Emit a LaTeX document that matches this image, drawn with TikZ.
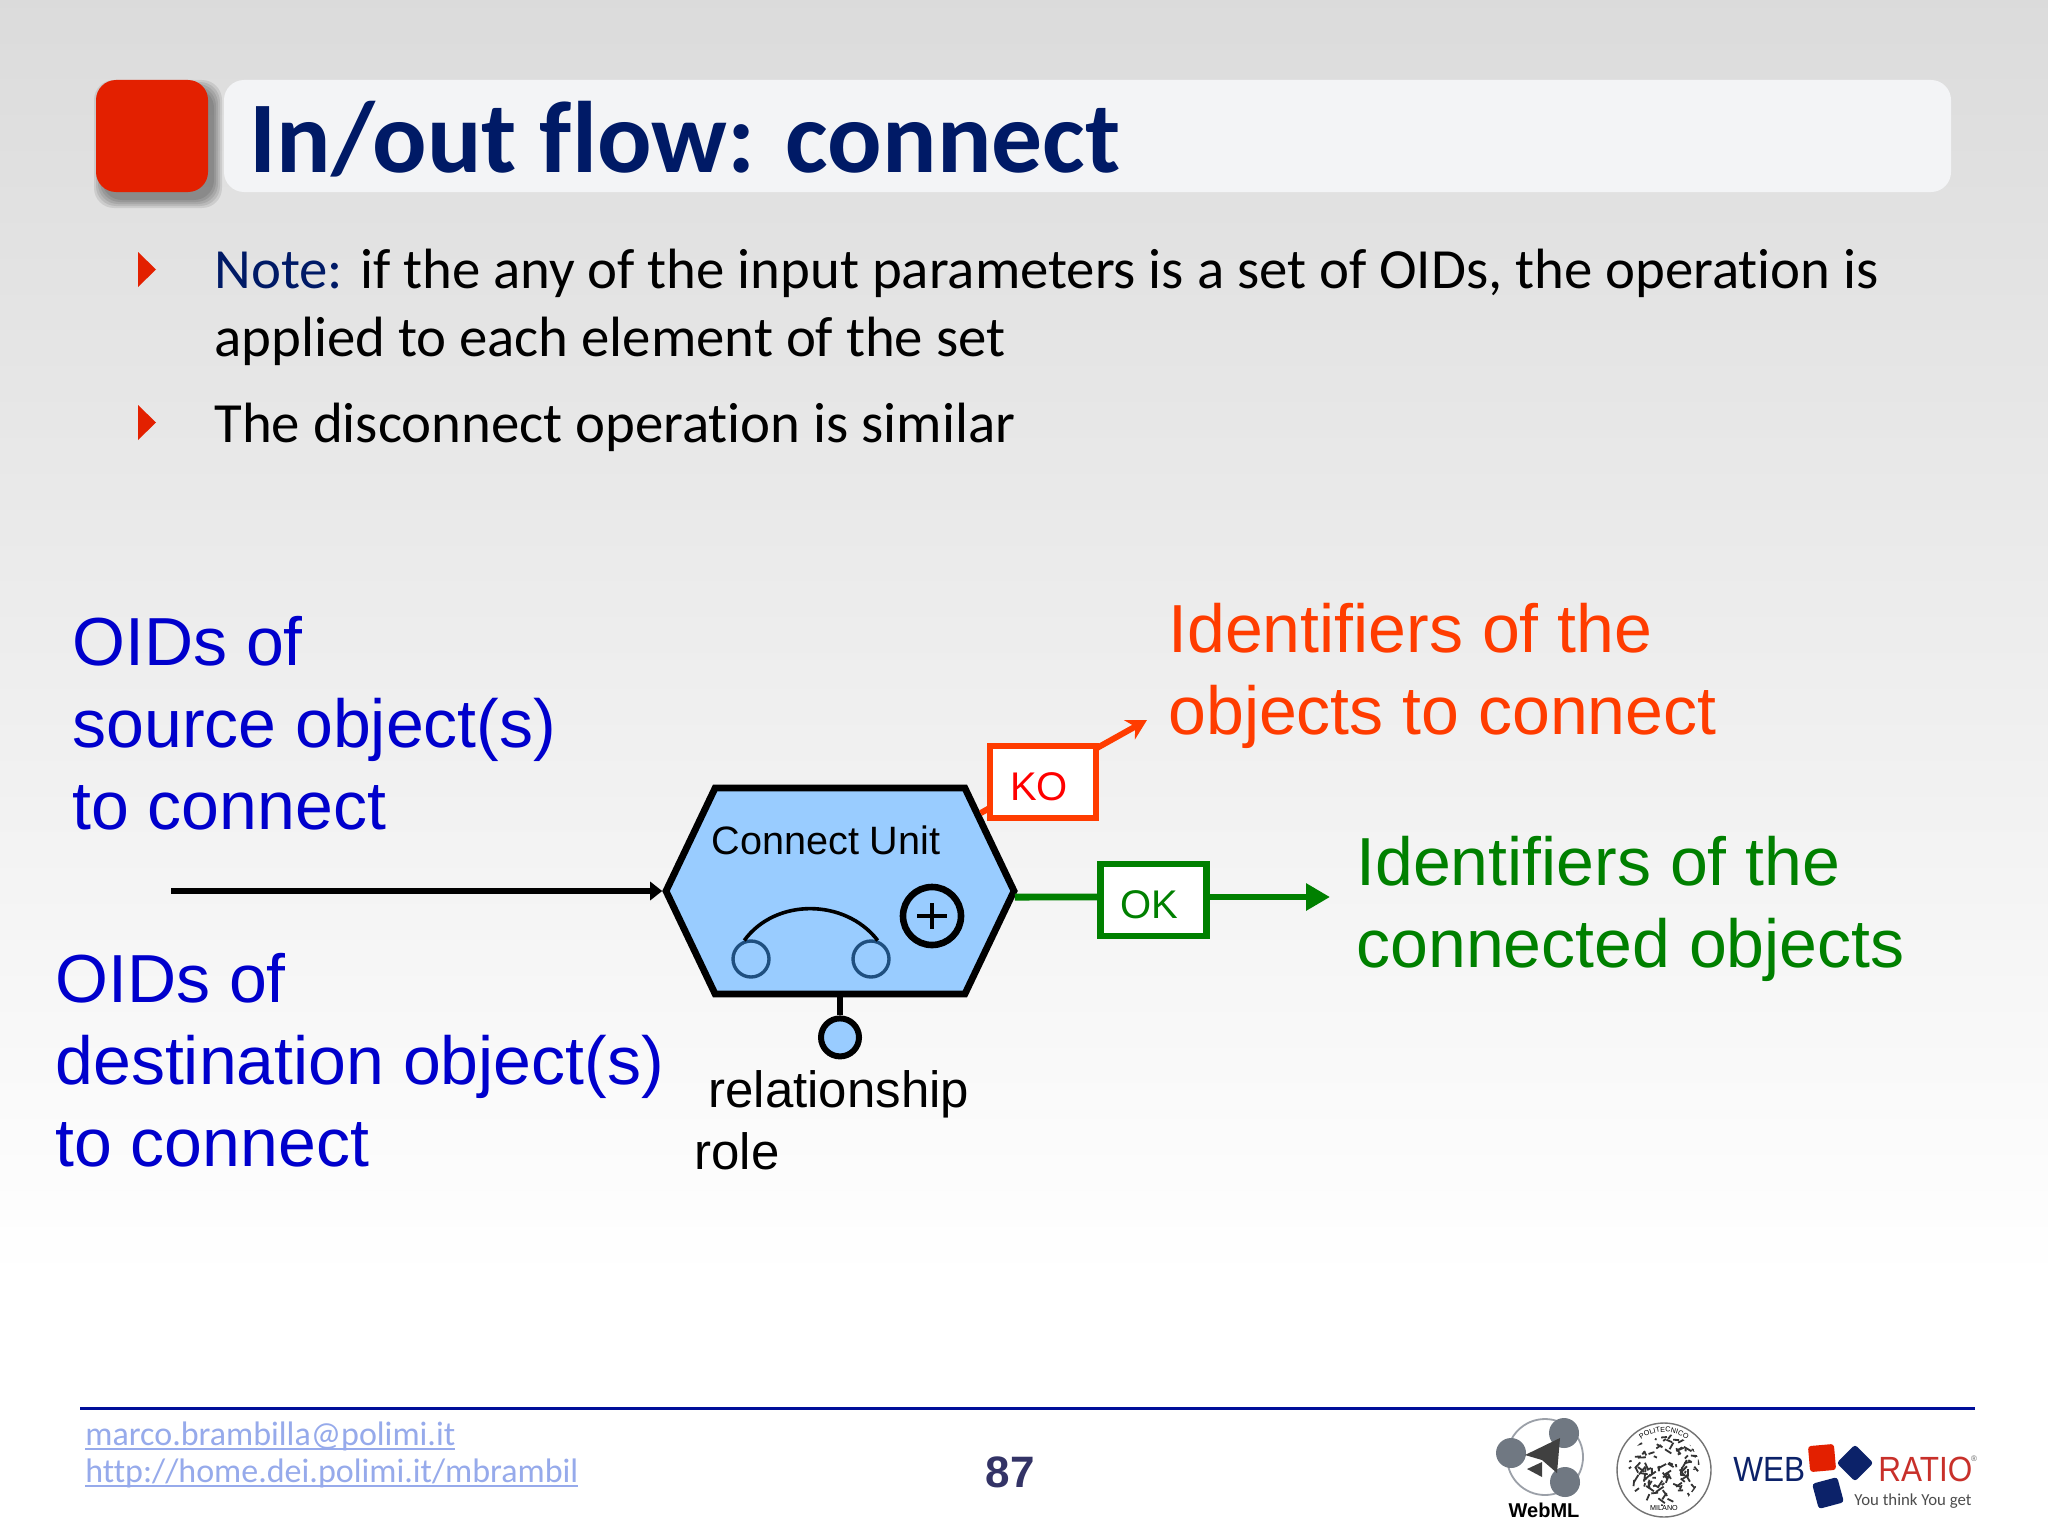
\documentclass[tikz,border=0pt]{standalone}
\usepackage{fontspec}
\setmainfont{Liberation Sans}
\newfontfamily\carlito[Ligatures=NoCommon]{Carlito}
\definecolor{slidenavy}{RGB}{0, 26, 102}
\definecolor{slidered}{RGB}{227, 32, 0}
\definecolor{barwhite}{RGB}{243, 244, 246}
\definecolor{unitblue}{RGB}{153, 204, 255}
\definecolor{portblue}{RGB}{31, 79, 127}
\definecolor{sourceblue}{RGB}{0, 0, 204}
\definecolor{koorange}{RGB}{255, 60, 0}
\definecolor{okgreen}{RGB}{0, 128, 0}
\definecolor{linkblue}{RGB}{150, 170, 235}
\definecolor{footblue}{RGB}{0, 14, 153}
\definecolor{pagegray}{RGB}{51, 51, 102}
\definecolor{webmlgray}{RGB}{112, 120, 130}
\definecolor{rationavy}{RGB}{12, 34, 105}
\definecolor{ratiored}{RGB}{200, 48, 42}
\usetikzlibrary{arrows.meta, positioning, calc, shapes.symbols, decorations.text}
\newcommand{\boxtext}[1]{\raisebox{-9.1pt}[7pt][7pt]{#1}\kern4pt}
\newcommand{\linkline}[1]{\setbox0=\hbox{#1}\rlap{\rule[-2.4pt]{\wd0}{0.9pt}}\box0}

\begin{document}
\begin{tikzpicture}[
    x=0.5pt, y=-0.5pt,
    bigtext/.style={inner sep=0pt, anchor=base west, align=left,
                font=\fontsize{34}{40.9}\selectfont},
    bodytext/.style={inner sep=0pt, anchor=base west, align=left,
                font=\carlito\fontsize{28.4}{34}\selectfont},
    linktext/.style={inner sep=0pt, anchor=base west, text=linkblue,
                font=\carlito\fontsize{17}{18}\selectfont},
    flowbox/.style={rectangle, fill=white, line width=3.2pt, inner sep=0pt,
                minimum width=53pt, minimum height=36pt, font=\fontsize{20}{20}\selectfont},
    unitport/.style={circle, draw=portblue, line width=1.7pt, inner sep=0pt,
                minimum size=18pt},
    webmlball/.style={circle, fill=webmlgray, inner sep=0pt, minimum size=15pt},
    ratiotile/.style={rectangle, rounded corners=1.5pt, inner sep=0pt, minimum size=13pt},
    logoword/.style={inner sep=0pt, anchor=base west, xscale=0.9, font=\fontsize{17.5}{17.5}\selectfont}
]
    % page and title bar
    \useasboundingbox (0,0) rectangle (2048,1536);
    \fill[white] (0,0) rectangle (2048,1536);
    \shade[top color=black!14, bottom color=white] (0,0) rectangle (2048,1280);
    \node[rectangle, fill=barwhite, rounded corners=10pt, minimum width=863.5pt, minimum height=56pt,
          inner sep=0pt] (titlebar) at (1087.5,136) {};
    \foreach \grow in {0,2,4,6,8}
        \fill[black, opacity=0.09, rounded corners=10pt] (96+6-\grow,80+8-\grow) rectangle (208+6+\grow,192+8+\grow);
    \node[rectangle, fill=slidered, rounded corners=10pt, minimum width=56pt, minimum height=56pt,
          inner sep=0pt] (titlemark) at (152,136) {};
    \node[inner sep=0pt, anchor=base west, text=slidenavy, font=\carlito\bfseries\fontsize{50.8}{50}\selectfont]
          (titletext) at (249,172) {In/out flow: connect};

    % bullets
    \foreach \ybullet in {252,405}
        \fill[slidered] (138,\ybullet) -- ++(18,17.5) -- ++(-18,17.5) -- cycle;
    \node[bodytext] (notetext) at (214,356) {\textcolor{slidenavy}{Note:} if the any of the input parameters is a set of OIDs, the operation is\\applied to each element of the set};
    \node[bodytext] (similartext) at (214,442) {The disconnect operation is similar};

    % connect unit
    \node[signal, signal to=east and west, signal pointer angle=129, draw=black, fill=unitblue,
          line width=3.4pt, inner sep=0pt, minimum width=174pt, minimum height=103pt] (hexunit) at (840,891) {};
    \node[font=\fontsize{19.8}{20}\selectfont, inner sep=0pt] (unitname) at (826,840) {Connect Unit};
    \node[unitport] (portleft) at (751,959) {};
    \node[unitport] (portright) at (871,959) {};
    \draw[line width=1.8pt] (portleft.110) .. controls (775,898) and (845,898) .. (portright.70);
    \node[circle, draw=black, line width=3.3pt, inner sep=0pt, minimum size=29pt] (plusmark) at (932,916) {};
    \draw[line width=1.8pt] (plusmark.center) ++(-15,0) -- ++(30,0) (plusmark.center) ++(0,-13) -- ++(0,26);
    \node[circle, draw=black, fill=unitblue, line width=3pt, inner sep=0pt, minimum size=19pt,
          below=9pt of hexunit.south] (rolemark) {};
    \draw[line width=3pt] (hexunit.south) -- (rolemark);

    % flows
    \coordinate (instart) at (171,891);
    \coordinate (kotip) at (1147,720);
    \coordinate (oktip) at (1330,897);
    \draw[line width=2.6pt, -{Triangle[length=6pt, width=9pt]}] (instart) -- (hexunit.west);
    \draw[koorange, line width=3pt, -{Stealth[length=10pt, width=11pt]}] (hexunit.29) -- (kotip);
    \node[flowbox, draw=koorange, text=red] (kobox) at (1043,782) {\boxtext{KO}};
    \node[flowbox, draw=okgreen, text=okgreen] (okbox) at (1153.5,900) {\boxtext{OK}};
    \draw[okgreen, line width=3.4pt] (hexunit.-2) -- (okbox.west |- oktip);
    \draw[okgreen, line width=3.4pt, -{Triangle[length=12pt, width=13pt]}] (okbox.east |- oktip) -- (oktip);

    % labels
    \node[bigtext, text=sourceblue] (srclabel) at (72,829.5) {OIDs of\\source object(s)\\to connect};
    \node[bigtext, text=sourceblue] (dstlabel) at (55,1166) {OIDs of\\destination object(s)\\to connect};
    \node[bigtext, text=koorange] (kolabel) at (1168,734.5) {Identifiers of the\\objects to connect};
    \node[bigtext, text=okgreen] (oklabel) at (1356,967.5) {Identifiers of the\\connected objects};
    \node[inner sep=0pt, anchor=base west, font=\fontsize{25.5}{25}\selectfont] (rolelabel) at (708,1107) {relationship};
    \node[inner sep=0pt, anchor=base west, font=\fontsize{25.5}{25}\selectfont] (rolelabeltwo) at (694,1169) {role};

    % footer
    \coordinate (footstart) at (80,1408);
    \coordinate (footend) at (1975,1408);
    \draw[footblue, line width=1.5pt] (footstart) -- (footend);
    \node[linktext] (maillink) at (85,1445) {\linkline{marco.brambilla@polimi.it}};
    \node[linktext] (weblink) at (85,1482) {\linkline{http://home.dei.polimi.it/mbrambil}};
    \node[inner sep=0pt, text=pagegray, font=\bfseries\fontsize{22}{22}\selectfont] (pagenum) at (1010,1472) {87};

    % webml logo
    \draw[webmlgray!70, line width=0.9pt] (1545,1457) circle (19pt);
    \node[webmlball] (webmla) at (1564,1433) {};
    \node[webmlball] (webmlb) at (1511,1453) {};
    \node[webmlball] (webmlc) at (1565,1482) {};
    \fill[black!75] (1560,1438) -- (1525,1455) -- (1542,1460) -- (1557,1473) -- cycle;
    \fill[black!75] (1542,1462) -- (1527,1469) -- (1542,1477) -- cycle;
    \node[font=\bfseries\fontsize{10}{10}\selectfont, inner sep=0pt, anchor=base] (webmlname) at (1544,1517) {WebML};

    % polimi seal
    \draw[black!55, line width=0.7pt] (1664,1470) circle (23.5pt);
    \begin{scope}
        \clip (1664,1470) circle (18pt);
        \pgfmathsetseed{87}
        \foreach \i in {1,...,120}
            \draw[black!80, line width=0.9pt] (1628+rnd*72,1434+rnd*72) -- ++(rnd*16-8,rnd*16-8);
    \end{scope}
    \path[decorate, decoration={text along path, text align=center,
          text={|\fontsize{3.6}{4}\selectfont|POLITECNICO}}]
          (1664-38,1470) arc[start angle=180, end angle=0, radius=19pt];
    \node[font=\fontsize{3.6}{4}\selectfont, inner sep=0pt, text=black] (sealname) at (1664,1508) {MILANO};

    % web ratio logo
    \node[logoword, text=rationavy] (webword) at (1733,1481) {WEB};
    \node[ratiotile, fill=slidered, rotate=5] (tilered) at (1822,1458) {};
    \node[ratiotile, fill=rationavy, rotate=45] (tilediamond) at (1855,1463) {};
    \node[ratiotile, fill=rationavy, rotate=15] (tilelow) at (1828,1493) {};
    \node[logoword, text=ratiored] (ratioword) at (1878,1481) {RATIO};
    \node[inner sep=0pt, text=black!60, font=\fontsize{4}{4}\selectfont] (ratiomark) at (1974,1459) {®};
    \node[inner sep=0pt, anchor=base west, text=black!70, font=\carlito\fontsize{8.4}{10}\selectfont] (ratioline) at (1854,1505) {You think You get};
\end{tikzpicture}
\end{document}
